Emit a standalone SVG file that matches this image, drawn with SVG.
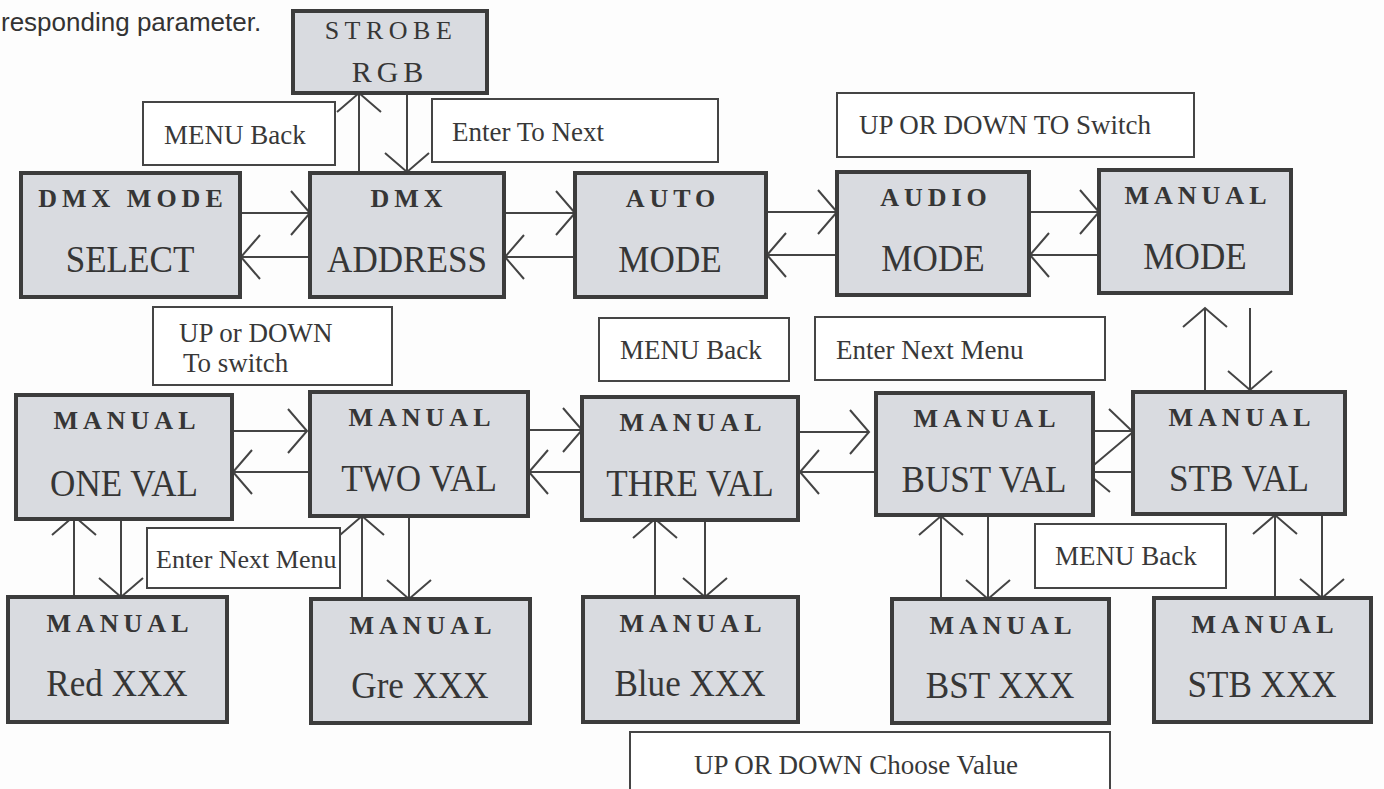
<svg xmlns="http://www.w3.org/2000/svg" width="1384" height="789" viewBox="0 0 1384 789">
<defs>
<style>
.node{fill:#d9dbe0;stroke:#3c3c3c;stroke-width:4}
.lbl{fill:#ffffff;stroke:#454545;stroke-width:2}
.t1{font-family:"Liberation Serif","Times New Roman",serif;font-weight:bold;font-size:26px;letter-spacing:5px;fill:#363636;text-anchor:middle}
.t2{font-family:"Liberation Serif","Times New Roman",serif;font-size:39px;fill:#363636;text-anchor:middle}
.ts{font-family:"Liberation Serif","Times New Roman",serif;font-size:27px;letter-spacing:5px;fill:#363636;text-anchor:middle}
.tl{font-family:"Liberation Serif","Times New Roman",serif;font-size:27px;fill:#383838}
.con{stroke:#444;stroke-width:2;fill:none}
</style>
<marker id="ah" markerUnits="userSpaceOnUse" viewBox="0 0 22 46" refX="20" refY="23" markerWidth="22" markerHeight="46" orient="auto">
<path d="M1,1 L20,23 L1,45" fill="none" stroke="#444" stroke-width="2"/>
</marker>
</defs>
<rect width="1384" height="789" fill="#fdfdfd"/>
<text x="1" y="31" font-family="Liberation Sans, Arial, sans-serif" font-size="26" fill="#333">responding parameter.</text>

<g id="connectors" class="con">
<line x1="359" y1="172" x2="359" y2="93" marker-end="url(#ah)"/>
<line x1="407" y1="93" x2="407" y2="172" marker-end="url(#ah)"/>
<line x1="240" y1="213" x2="310" y2="213" marker-end="url(#ah)"/>
<line x1="310" y1="257" x2="241" y2="257" marker-end="url(#ah)"/>
<line x1="504" y1="213" x2="575" y2="213" marker-end="url(#ah)"/>
<line x1="575" y1="257" x2="505" y2="257" marker-end="url(#ah)"/>
<line x1="766" y1="212" x2="837" y2="212" marker-end="url(#ah)"/>
<line x1="837" y1="255" x2="767" y2="255" marker-end="url(#ah)"/>
<line x1="1029" y1="212" x2="1099" y2="212" marker-end="url(#ah)"/>
<line x1="1099" y1="255" x2="1030" y2="255" marker-end="url(#ah)"/>
<line x1="1205" y1="392" x2="1205" y2="308" marker-end="url(#ah)"/>
<line x1="1250" y1="308" x2="1250" y2="390" marker-end="url(#ah)"/>
<line x1="232" y1="431" x2="307" y2="431" marker-end="url(#ah)"/>
<line x1="310" y1="472" x2="233" y2="472" marker-end="url(#ah)"/>
<line x1="528" y1="430" x2="582" y2="430" marker-end="url(#ah)"/>
<line x1="582" y1="472" x2="529" y2="472" marker-end="url(#ah)"/>
<line x1="798" y1="432" x2="869" y2="432" marker-end="url(#ah)"/>
<line x1="876" y1="472" x2="800" y2="472" marker-end="url(#ah)"/>
<line x1="1093" y1="431" x2="1133" y2="431"/>
<path d="M1109,409 L1133,432 L1088,470"/>
<line x1="1133" y1="472" x2="1090" y2="472"/>
<path d="M1088,470 L1086,472 L1110,492"/>
<line x1="74" y1="597" x2="74" y2="516" marker-end="url(#ah)"/>
<line x1="121" y1="520" x2="121" y2="597" marker-end="url(#ah)"/>
<line x1="362" y1="599" x2="362" y2="516" marker-end="url(#ah)"/>
<line x1="409" y1="516" x2="409" y2="599" marker-end="url(#ah)"/>
<line x1="655" y1="597" x2="655" y2="519" marker-end="url(#ah)"/>
<line x1="705" y1="520" x2="705" y2="597" marker-end="url(#ah)"/>
<line x1="941" y1="599" x2="941" y2="516" marker-end="url(#ah)"/>
<line x1="988" y1="515" x2="988" y2="599" marker-end="url(#ah)"/>
<line x1="1275" y1="598" x2="1275" y2="515" marker-end="url(#ah)"/>
<line x1="1322" y1="514" x2="1322" y2="598" marker-end="url(#ah)"/>
</g>

<g id="strobe"><rect class="node" x="293" y="11" width="194" height="82"/>
<text class="ts" x="391" y="39" style="font-size:26px;letter-spacing:5.5px">STROBE</text><text class="ts" x="390" y="82" style="font-size:30px">RGB</text></g>

<g id="dmxmode"><rect class="node" x="21" y="173" width="219" height="124"/>
<text class="t1" x="133" y="207">DMX MODE</text><text class="t2" transform="translate(130,272) scale(0.9,1)">SELECT</text></g>
<g id="dmxaddr"><rect class="node" x="310" y="173" width="194" height="124"/>
<text class="t1" x="409" y="207">DMX</text><text class="t2" transform="translate(407,272) scale(0.9,1)">ADDRESS</text></g>
<g id="auto"><rect class="node" x="575" y="173" width="191" height="124"/>
<text class="t1" x="673" y="207">AUTO</text><text class="t2" transform="translate(670,272) scale(0.9,1)">MODE</text></g>
<g id="audio"><rect class="node" x="837" y="172" width="192" height="123"/>
<text class="t1" x="936" y="206">AUDIO</text><text class="t2" transform="translate(933,271) scale(0.9,1)">MODE</text></g>
<g id="manualmode"><rect class="node" x="1099" y="170" width="192" height="123"/>
<text class="t1" x="1198" y="204">MANUAL</text><text class="t2" transform="translate(1195,269) scale(0.9,1)">MODE</text></g>

<g id="oneval"><rect class="node" x="16" y="395" width="216" height="124"/>
<text class="t1" x="127" y="429">MANUAL</text><text class="t2" transform="translate(124,496) scale(0.9,1)">ONE VAL</text></g>
<g id="twoval"><rect class="node" x="310" y="392" width="218" height="124"/>
<text class="t1" x="422" y="426">MANUAL</text><text class="t2" transform="translate(419,491) scale(0.9,1)">TWO VAL</text></g>
<g id="threval"><rect class="node" x="582" y="397" width="216" height="123"/>
<text class="t1" x="693" y="431">MANUAL</text><text class="t2" transform="translate(690,496) scale(0.9,1)">THRE VAL</text></g>
<g id="bustval"><rect class="node" x="876" y="393" width="217" height="122"/>
<text class="t1" x="987" y="427">MANUAL</text><text class="t2" transform="translate(984,492) scale(0.9,1)">BUST VAL</text></g>
<g id="stbval"><rect class="node" x="1133" y="392" width="212" height="122"/>
<text class="t1" x="1242" y="426">MANUAL</text><text class="t2" transform="translate(1239,491) scale(0.9,1)">STB VAL</text></g>

<g id="red"><rect class="node" x="8" y="597" width="219" height="125"/>
<text class="t1" x="120" y="632">MANUAL</text><text class="t2" transform="translate(117,696) scale(0.9,1)">Red XXX</text></g>
<g id="gre"><rect class="node" x="311" y="599" width="219" height="124"/>
<text class="t1" x="423" y="634">MANUAL</text><text class="t2" transform="translate(420,698) scale(0.9,1)">Gre XXX</text></g>
<g id="blue"><rect class="node" x="583" y="597" width="215" height="125"/>
<text class="t1" x="693" y="632">MANUAL</text><text class="t2" transform="translate(690,696) scale(0.9,1)">Blue XXX</text></g>
<g id="bst"><rect class="node" x="892" y="599" width="217" height="124"/>
<text class="t1" x="1003" y="634">MANUAL</text><text class="t2" transform="translate(1000,698) scale(0.9,1)">BST XXX</text></g>
<g id="stbxxx"><rect class="node" x="1154" y="598" width="217" height="124"/>
<text class="t1" x="1265" y="633">MANUAL</text><text class="t2" transform="translate(1262,697) scale(0.9,1)">STB XXX</text></g>

<g id="lbl-menuback1"><rect class="lbl" x="143" y="102" width="192" height="63"/><text class="tl" x="164" y="144">MENU Back</text></g>
<g id="lbl-entertonext"><rect class="lbl" x="432" y="99" width="286" height="63"/><text class="tl" x="452" y="141">Enter To Next</text></g>
<g id="lbl-updownswitch"><rect class="lbl" x="837" y="93" width="357" height="64"/><text class="tl" x="859" y="134">UP OR DOWN TO Switch</text></g>
<g id="lbl-upordown"><rect class="lbl" x="153" y="307" width="239" height="78"/><text class="tl" x="179" y="342">UP or DOWN</text><text class="tl" x="183" y="372">To switch</text></g>
<g id="lbl-menuback2"><rect class="lbl" x="599" y="318" width="190" height="63"/><text class="tl" x="620" y="359">MENU Back</text></g>
<g id="lbl-enternext1"><rect class="lbl" x="815" y="317" width="290" height="63"/><text class="tl" x="836" y="359">Enter Next Menu</text></g>
<g id="lbl-enternext2"><rect class="lbl" x="147" y="528" width="193" height="60"/><text class="tl" x="156" y="568" style="font-size:26px">Enter Next Menu</text></g>
<g id="lbl-menuback3"><rect class="lbl" x="1035" y="524" width="191" height="64"/><text class="tl" x="1055" y="565">MENU Back</text></g>
<g id="lbl-choose"><rect class="lbl" x="630" y="732" width="480" height="70"/><text class="tl" x="694" y="774">UP OR DOWN Choose Value</text></g>
</svg>
